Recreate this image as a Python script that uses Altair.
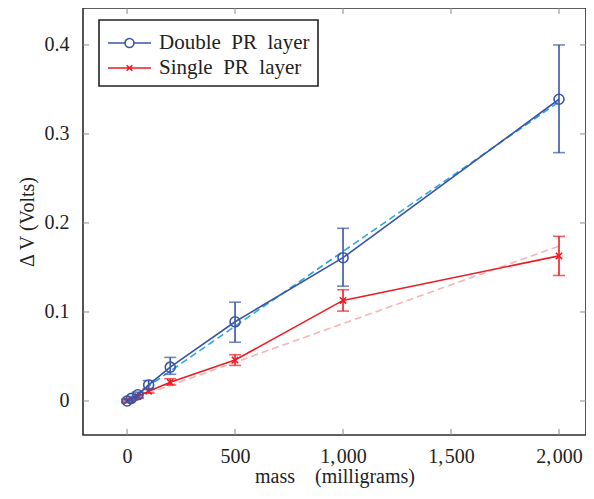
import altair as alt
import pandas as pd

# ---- data ----
mass = [0, 20, 50, 100, 200, 500, 1000, 2000]
double_v = [0.000, 0.003, 0.007, 0.018, 0.038, 0.089, 0.161, 0.339]
double_lo = [-0.002, 0.001, 0.004, 0.013, 0.030, 0.066, 0.129, 0.279]
double_hi = [0.002, 0.005, 0.010, 0.023, 0.049, 0.111, 0.194, 0.400]
single_v = [0.000, 0.002, 0.005, 0.011, 0.021, 0.046, 0.113, 0.163]
single_lo = [-0.001, 0.001, 0.003, 0.009, 0.018, 0.040, 0.101, 0.141]
single_hi = [0.001, 0.003, 0.007, 0.014, 0.025, 0.052, 0.125, 0.185]

fit_mass = [0, 2000]
fit_double = [0.0, 0.336]
fit_single = [0.0, 0.174]

series_names = ["Double\u2002PR\u2002layer", "Single\u2002PR\u2002layer"]
x_ticks = [0, 500, 1000, 1500, 2000]
y_ticks = [0, 0.1, 0.2, 0.3, 0.4]

BLUE = "#3a55a6"
RED = "#ec1c24"
LBLUE = "#27a9e1"
PINK = "#f7b4b4"
FONT = "Liberation Serif"
W, H = 503, 427

df_d = pd.DataFrame({"mass": mass, "v": double_v, "lo": double_lo, "hi": double_hi,
                     "series": series_names[0]})
df_s = pd.DataFrame({"mass": mass, "v": single_v, "lo": single_lo, "hi": single_hi,
                     "series": series_names[1]})
df_fit = pd.DataFrame({"mass": fit_mass, "fd": fit_double, "fs": fit_single})
df_xt = pd.DataFrame({"t": x_ticks})
df_yt = pd.DataFrame({"t": y_ticks})

xscale = alt.Scale(domain=[-204, 2125], nice=False, zero=False)
yscale = alt.Scale(domain=[-0.0382, 0.4415], nice=False, zero=False)
xaxis = alt.Axis(values=x_ticks, ticks=False, domain=False, grid=False,
                 labelPadding=11, titlePadding=0, labelFlush=False,
                 labelExpr="replace(format(datum.value, ','), ',', ',\u200a')")
yaxis = alt.Axis(values=y_ticks, ticks=False, domain=False, grid=False,
                 labelPadding=14, titlePadding=7, labelFlush=False,
                 labelExpr="datum.value == 0 ? '0' : format(datum.value, '.1f')")
XT = "mass\u2003(milligrams)"
YT = "\u0394\u2009V (Volts)"


def X(f):
    return alt.X(f"{f}:Q", scale=xscale, axis=xaxis, title=XT)


def Y(f):
    return alt.Y(f"{f}:Q", scale=yscale, axis=yaxis, title=YT)


CROSS = "M-1,-1L1,1M-1,1L1,-1"


def series_layers(df, color, shape, size):
    base = alt.Chart(df)
    line = base.mark_line(color=color, strokeWidth=1.6).encode(x=X("mass"), y=Y("v"))
    err = base.mark_rule(color=color, strokeWidth=1.6).encode(x=X("mass"), y=Y("lo"), y2="hi")
    cap_lo = base.mark_tick(color=color, orient="horizontal", size=12, thickness=1.6).encode(
        x=X("mass"), y=Y("lo"))
    cap_hi = base.mark_tick(color=color, orient="horizontal", size=12, thickness=1.6).encode(
        x=X("mass"), y=Y("hi"))
    pts = base.mark_point(color=color, shape=shape, filled=False, size=size,
                          strokeWidth=1.6, opacity=1).encode(x=X("mass"), y=Y("v"))
    return [line, err, cap_lo, cap_hi, pts]


fit_d = alt.Chart(df_fit).mark_line(color=LBLUE, strokeDash=[7, 4], strokeWidth=1.6).encode(
    x=X("mass"), y=Y("fd"))
fit_s = alt.Chart(df_fit).mark_line(color=PINK, strokeDash=[7, 4], strokeWidth=1.6).encode(
    x=X("mass"), y=Y("fs"))

TICKC = "#8a8a8a"
tick_b = alt.Chart(df_xt).mark_rule(color=TICKC, strokeWidth=1).encode(
    x=X("t"), y=alt.value(H), y2=alt.value(H - 6))
tick_t = alt.Chart(df_xt).mark_rule(color=TICKC, strokeWidth=1).encode(
    x=X("t"), y=alt.value(0), y2=alt.value(6))
tick_l = alt.Chart(df_yt).mark_rule(color=TICKC, strokeWidth=1).encode(
    y=Y("t"), x=alt.value(0), x2=alt.value(6))
tick_r = alt.Chart(df_yt).mark_rule(color=TICKC, strokeWidth=1).encode(
    y=Y("t"), x=alt.value(W), x2=alt.value(W - 6))

# legend symbols: line with marker, path extends right of the nominal box
LEG_CIRCLE = ("M-1,0H0.215M0.855,0H2.07M0.215,0A0.32,0.32 0 1,0 0.855,0"
              "A0.32,0.32 0 1,0 0.215,0")
LEG_CROSS = ("M-1,0H2.07M0.335,-0.2L0.735,0.2M0.335,0.2L0.735,-0.2")

legend_layer = alt.Chart(pd.concat([df_d, df_s])).mark_point(opacity=0, filled=False).encode(
    x=X("mass"), y=Y("v"),
    color=alt.Color("series:N", scale=alt.Scale(domain=series_names, range=[BLUE, RED]),
                    legend=alt.Legend(title=None)),
    shape=alt.Shape("series:N", scale=alt.Scale(domain=series_names,
                                                range=[LEG_CIRCLE, LEG_CROSS]),
                    legend=alt.Legend(title=None)),
)

layers = [fit_s, fit_d]
layers += series_layers(df_s, RED, CROSS, 40)
layers += series_layers(df_d, BLUE, "circle", 100)
layers += [legend_layer, tick_b, tick_t, tick_l, tick_r]

chart = alt.layer(*layers).properties(
    width=W, height=H,
    autosize=alt.AutoSizeParams(type="none"),
    padding={"left": 75, "top": 0, "right": 0, "bottom": 56},
    background="white",
).configure_view(
    stroke="#2b2b2b", strokeWidth=1.6
).configure_axis(
    labelFont=FONT, titleFont=FONT, labelFontSize=20, titleFontSize=20,
    titleFontWeight="normal", labelColor="#222", titleColor="#222"
).configure_legend(
    orient="none", legendX=16, legendY=12,
    strokeColor="#222", fillColor="white", strokeWidth=1.6,
    padding=8, labelFont=FONT, labelFontSize=21, labelColor="#222",
    symbolSize=784, symbolStrokeWidth=1.6, symbolFillColor="transparent",
    symbolOpacity=1, rowPadding=0, labelOffset=22, cornerRadius=0
)

chart.save("out.html", embed_options={"renderer": "svg", "actions": False})
